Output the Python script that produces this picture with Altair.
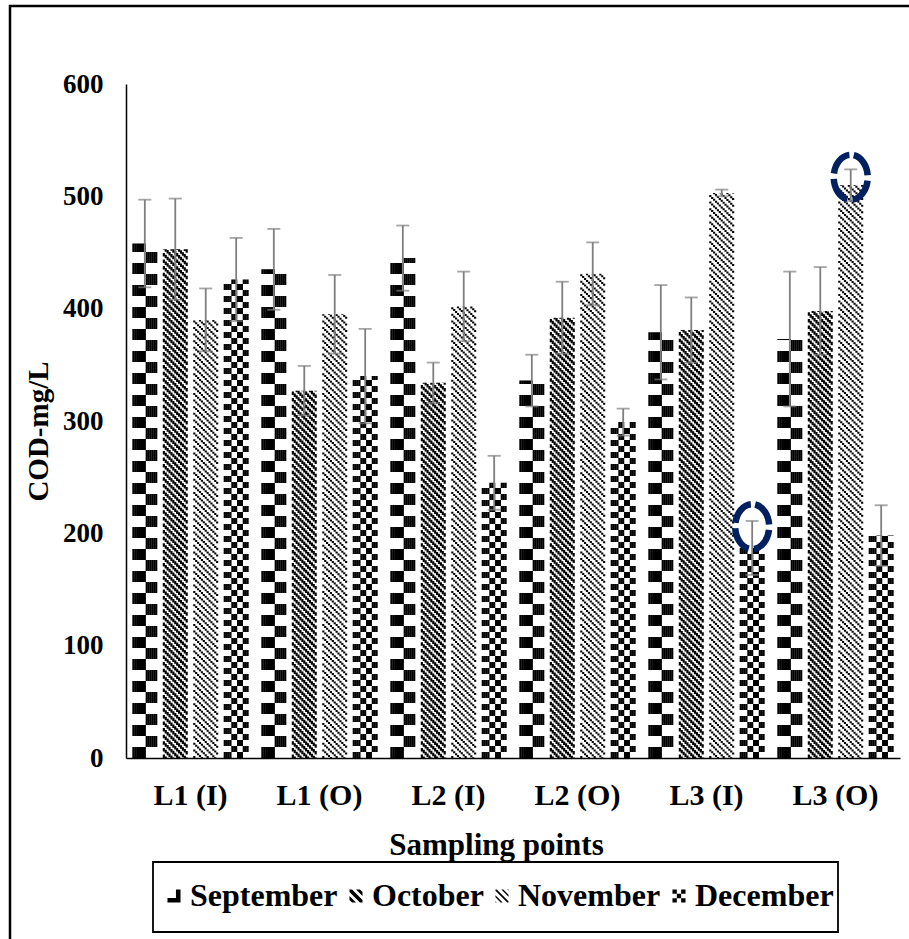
import altair as alt
import pandas as pd

# ---------------- data ----------------
categories = ["L1 (I)", "L1 (O)", "L2 (I)", "L2 (O)", "L3 (I)", "L3 (O)"]
months = ["September", "October", "November", "December"]

sep_mean = [458, 435, 445, 336, 379, 373]
oct_mean = [453, 327, 334, 392, 381, 398]
nov_mean = [390, 395, 402, 431, 503, 510]
dec_mean = [426, 340, 245, 299, 187, 198]

sep_err = [39, 36, 29, 23, 42, 60]
oct_err = [45, 22, 18, 32, 29, 39]
nov_err = [28, 35, 31, 28, 3, 14]
dec_err = [37, 42, 24, 12, 24, 27]

circle_cat = ["L3 (I)", "L3 (O)"]
circle_month = ["December", "November"]
circle_val = [206, 517]

means = dict(zip(months, [sep_mean, oct_mean, nov_mean, dec_mean]))
errs = dict(zip(months, [sep_err, oct_err, nov_err, dec_err]))

FONT = "Liberation Serif"
W, H = 774, 674
P_IN, P_OUT = 0.1, 0.05
NCOL, GAP = 13, 3

# sub-slots inside every category band (columns of the pattern + gaps)
slots = []
for mi, m in enumerate(months):
    slots += [f"{m}-{c:02d}" for c in range(NCOL)]
    if mi < len(months) - 1:
        slots += [f"gap{mi}-{g}" for g in range(GAP)]

step = W / (len(categories) - P_IN + 2 * P_OUT)
band = step * (1 - P_IN)
sw = band / len(slots)


def dash(start, on, period):
    start = start % period
    if start < on:
        return [round(on - start, 3), round(period - on, 3), round(start, 3), 0]
    return [0, round(period - start, 3), on, round(start - on, 3)]


dash_keys, dash_vals = [], []
for m in months:
    for c in range(NCOL):
        key = f"{m}-{c:02d}"
        if m == "September":
            d = dash(0 if c < 7 else 11, 11, 22)
        elif m == "December":
            grp = int(c * 4 / NCOL)
            d = dash(6 * (grp % 2), 6, 12)
        elif m == "October":
            d = dash(c * sw, 3.5, 6.6)
        else:
            d = dash(c * sw, 2.0, 6.6)
        dash_keys.append(key)
        dash_vals.append(d)

rows = []
for m in months:
    for i, cat in enumerate(categories):
        for c in range(NCOL):
            rows.append({"category": cat, "slot": f"{m}-{c:02d}",
                         "zero": 0, "value": means[m][i]})
cols_df = pd.DataFrame(rows)

err_rows = []
for m in months:
    for i, cat in enumerate(categories):
        err_rows.append({"category": cat, "month": m, "slot": f"{m}-06",
                         "value": means[m][i],
                         "lo": means[m][i] - errs[m][i],
                         "hi": means[m][i] + errs[m][i]})
err_df = pd.DataFrame(err_rows)

circ_df = pd.DataFrame({"category": circle_cat,
                        "slot": [f"{m}-06" for m in circle_month],
                        "value": circle_val})

x_enc = alt.X("category:N", sort=categories,
              scale=alt.Scale(domain=categories, paddingInner=P_IN, paddingOuter=P_OUT),
              axis=alt.Axis(title="Sampling points", labelAngle=0, labelFont=FONT,
                            labelFontSize=30, labelFontWeight="bold", labelColor="black",
                            labelPadding=22, ticks=False, tickSize=0,
                            domainColor="black", domainWidth=1.5,
                            titleFont=FONT, titleFontSize=31, titleFontWeight="bold",
                            titleColor="black", titlePadding=20, titleX=370))
xo_enc = alt.XOffset("slot:N", sort=slots,
                     scale=alt.Scale(domain=slots, paddingInner=0, paddingOuter=0))
y_scale = alt.Scale(domain=[0, 600], nice=False)
y_axis = alt.Axis(title="COD-mg/L", values=[0, 100, 200, 300, 400, 500, 600],
                  labelFont=FONT, labelFontSize=27, labelFontWeight="bold",
                  labelColor="black", labelPadding=23, ticks=False, tickSize=0,
                  grid=False, domainColor="black", domainWidth=1.5,
                  titleFont=FONT, titleFontSize=29, titleFontWeight="bold",
                  titleColor="black", titlePadding=9, titleY=347)

pattern = alt.Chart(cols_df).mark_rule(color="black", strokeWidth=sw + 0.25,
                                       strokeCap="butt").encode(
    x=x_enc,
    xOffset=xo_enc,
    y=alt.Y("zero:Q", scale=y_scale, axis=y_axis),
    y2="value:Q",
    strokeDash=alt.StrokeDash("slot:N",
                              scale=alt.Scale(domain=dash_keys, range=dash_vals),
                              legend=None),
)

ebar = alt.Chart(err_df).mark_rule(color="#7f7f7f", strokeWidth=1.8).encode(
    x=alt.X("category:N", sort=categories),
    xOffset=alt.XOffset("slot:N"),
    y="lo:Q", y2="hi:Q")
cap_hi = alt.Chart(err_df).mark_tick(color="#7f7f7f", thickness=1.8, size=13,
                                     orient="horizontal").encode(
    x=alt.X("category:N", sort=categories), xOffset=alt.XOffset("slot:N"), y="hi:Q")
cap_lo = alt.Chart(err_df).mark_tick(color="#7f7f7f", thickness=1.8, size=13,
                                     orient="horizontal").encode(
    x=alt.X("category:N", sort=categories), xOffset=alt.XOffset("slot:N"), y="lo:Q")

ellipse = "M0,-1.32 A1,1.32 0 0,1 0,1.32 A1,1.32 0 0,1 0,-1.32 Z"
circles = alt.Chart(circ_df).mark_point(shape=ellipse, filled=False, size=1156,
                                        stroke="#002060", strokeWidth=6.5,
                                        strokeDash=[26, 5.2], strokeDashOffset=-3,
                                        opacity=1).encode(
    x=alt.X("category:N", sort=categories), xOffset=alt.XOffset("slot:N"), y="value:Q")

sym_paths = [
    "M-1,0.3H1V1H-1Z M0.3,-1H1V0.3H0.3Z",
    "M-1,-1L-0.6,-1L1,0.6L1,1L0.6,1L-1,-0.6Z M0,-1L0.6,-1L1,-0.6L1,0Z M-1,0L-1,0.6L-0.6,1L0,1Z",
    "M-1,-1L-0.8,-1L1,0.8L1,1L0.8,1L-1,-0.8Z M-0.1,-1L0.2,-1L1,-0.2L1,0.1Z "
    "M-1,-0.1L-1,0.2L-0.2,1L0.1,1Z M0.8,-1L1,-1L1,-0.8Z M-1,0.8L-1,1L-0.8,1Z",
    "M-1,-1h0.667v0.667h-0.667Z M0.333,-1h0.667v0.667h-0.667Z "
    "M-0.333,-0.333h0.667v0.667h-0.667Z M-1,0.333h0.667v0.667h-0.667Z "
    "M0.333,0.333h0.667v0.667h-0.667Z",
]

legend_layer = alt.Chart(err_df).transform_filter("false").mark_point(
    filled=True, color="black", size=170, opacity=1).encode(
    x=alt.X("category:N", sort=categories), y="value:Q",
    shape=alt.Shape("month:N", sort=months,
                    scale=alt.Scale(domain=months, range=sym_paths),
                    legend=alt.Legend(title=None, orient="none", legendX=35, legendY=796,
                                      direction="horizontal", columns=4,
                                      labelFont=FONT, labelFontSize=32,
                                      labelFontWeight="bold", labelColor="black",
                                      labelOffset=0, columnPadding=5, padding=0,
                                      symbolSize=170, symbolOffset=-3,
                                      symbolFillColor="black", symbolStrokeWidth=0,
                                      symbolOpacity=1)))

frame_df = pd.DataFrame({"k": [0]})
legend_box = alt.Chart(frame_df).mark_rect(fill="white", fillOpacity=0, stroke="black",
                                           strokeWidth=1.8).encode(
    x=alt.value(27), x2=alt.value(712), y=alt.value(778), y2=alt.value(848))
frame_left = alt.Chart(frame_df).mark_rule(color="black", strokeWidth=2.5).encode(
    x=alt.value(-116), y=alt.value(-79), y2=alt.value(H + 190))
frame_top = alt.Chart(frame_df).mark_rule(color="black", strokeWidth=2.5).encode(
    x=alt.value(-117), x2=alt.value(W + 20), y=alt.value(-78))

chart = alt.layer(pattern, ebar, cap_hi, cap_lo, circles, legend_layer, legend_box,
                  frame_left, frame_top).properties(
    width=W, height=H,
    padding={"left": 126, "top": 84, "right": 9, "bottom": 181},
    autosize=alt.AutoSizeParams(type="none"),
    background="white",
).configure_view(strokeWidth=0)

chart.save("out.html", embed_options={"renderer": "svg", "actions": False})
